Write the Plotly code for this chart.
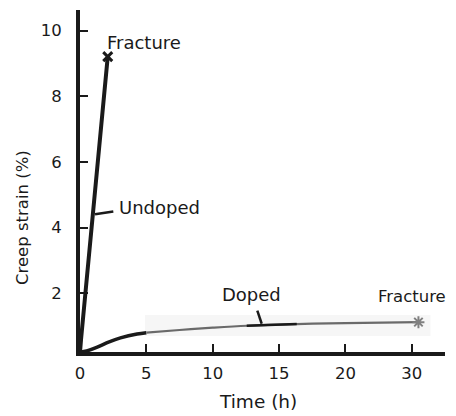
import plotly.graph_objects as go

# Axis positions along the (broken) time axis; the last tick position is labelled 30 h
x_tickvals = [0, 5, 10, 15, 20, 25]
x_ticktext = ["0", "5", "10", "15", "20", "30"]
y_tickvals = [2, 4, 6, 8, 10]
y_ticktext = ["2", "4", "6", "8", "10"]

undoped_x = [0.0, 0.08, 2.09]
undoped_y = [0.2, 0.6, 9.21]

doped_early_x = [0.0, 0.5, 1.3, 2.2, 3.05, 4.3, 5.0]
doped_early_y = [0.2, 0.24, 0.36, 0.52, 0.64, 0.76, 0.8]
doped_late_x = [5.0, 7.5, 10.0, 12.6, 16.3, 20.0, 25.5]
doped_late_y = [0.8, 0.88, 0.95, 1.01, 1.06, 1.09, 1.12]

FONT = "DejaVu Sans, sans-serif"
INK = "#1a1a1a"

fig = go.Figure()

# faint scan background behind the grey part of the doped curve
fig.add_shape(type="rect", x0=4.9, x1=26.4, y0=0.7, y1=1.34,
              fillcolor="#f6f6f6", line=dict(width=0), layer="below")

fig.add_trace(go.Scatter(x=undoped_x, y=undoped_y, mode="lines",
                         line=dict(color=INK, width=4), showlegend=False))
fig.add_trace(go.Scatter(x=[undoped_x[-1]], y=[undoped_y[-1]], mode="markers",
                         marker=dict(symbol="x-thin-open", size=9, color=INK,
                                     line=dict(color=INK, width=3)),
                         showlegend=False))
fig.add_trace(go.Scatter(x=doped_early_x, y=doped_early_y, mode="lines",
                         line=dict(color=INK, width=3.5, shape="spline"),
                         showlegend=False))
fig.add_trace(go.Scatter(x=doped_late_x, y=doped_late_y, mode="lines",
                         line=dict(color="#6a6a6a", width=2.2, shape="spline"),
                         showlegend=False))
fig.add_trace(go.Scatter(x=[doped_late_x[-1]], y=[doped_late_y[-1]], mode="markers",
                         marker=dict(symbol="asterisk-open", size=10, color="#808080",
                                     line=dict(color="#808080", width=2)),
                         showlegend=False))
# dark overlay where the "Doped" pointer meets the curve
fig.add_trace(go.Scatter(x=[12.56, 16.33], y=[1.01, 1.06], mode="lines",
                         line=dict(color=INK, width=2.5), showlegend=False))

# leader lines
fig.add_shape(type="line", x0=1.13, y0=4.41, x1=2.51, y1=4.49,
              line=dict(color=INK, width=2.5))
fig.add_shape(type="line", x0=13.36, y0=1.47, x1=13.69, y1=1.07,
              line=dict(color=INK, width=2.5))

ann = [
    dict(x=1.88, y=9.65, text="Fracture", size=18),
    dict(x=2.79, y=4.6, text="Undoped", size=18),
    dict(x=10.55, y=1.95, text="Doped", size=18),
    dict(x=22.3, y=1.89, text="Fracture", size=16.5),
]
for a in ann:
    fig.add_annotation(x=a["x"], y=a["y"], text=a["text"], xanchor="left",
                       yanchor="middle", showarrow=False,
                       font=dict(family=FONT, size=a["size"], color=INK))

fig.add_annotation(xref="paper", yref="paper", x=-0.156, y=0.392,
                   text="Creep strain (%)", textangle=-90, showarrow=False,
                   xanchor="center", yanchor="middle",
                   font=dict(family=FONT, size=16.5, color=INK))
fig.add_annotation(xref="paper", yref="paper", x=0.488, y=-0.146,
                   text="Time (h)", showarrow=False,
                   xanchor="center", yanchor="middle",
                   font=dict(family=FONT, size=18.5, color=INK))

# page body has an 8px default margin: size/margins compensate for it
fig.update_layout(
    width=448, height=408,
    margin=dict(l=72, r=11, t=2, b=64),
    paper_bgcolor="white", plot_bgcolor="white",
    font=dict(family=FONT, size=16.5, color=INK),
    xaxis=dict(range=[0, 27.5], tickvals=x_tickvals, ticktext=x_ticktext,
               showgrid=False, zeroline=False, showline=True,
               linecolor=INK, linewidth=4, ticks="inside",
               ticklen=8, tickwidth=2, tickcolor=INK,
               ticklabelstandoff=3),
    yaxis=dict(range=[0.21, 10.63], tickvals=y_tickvals, ticktext=y_ticktext,
               showgrid=False, zeroline=False, showline=True,
               linecolor=INK, linewidth=4, ticks="inside",
               ticklen=8, tickwidth=2, tickcolor=INK,
               ticklabelstandoff=11),
)

fig.write_html("out.html")
